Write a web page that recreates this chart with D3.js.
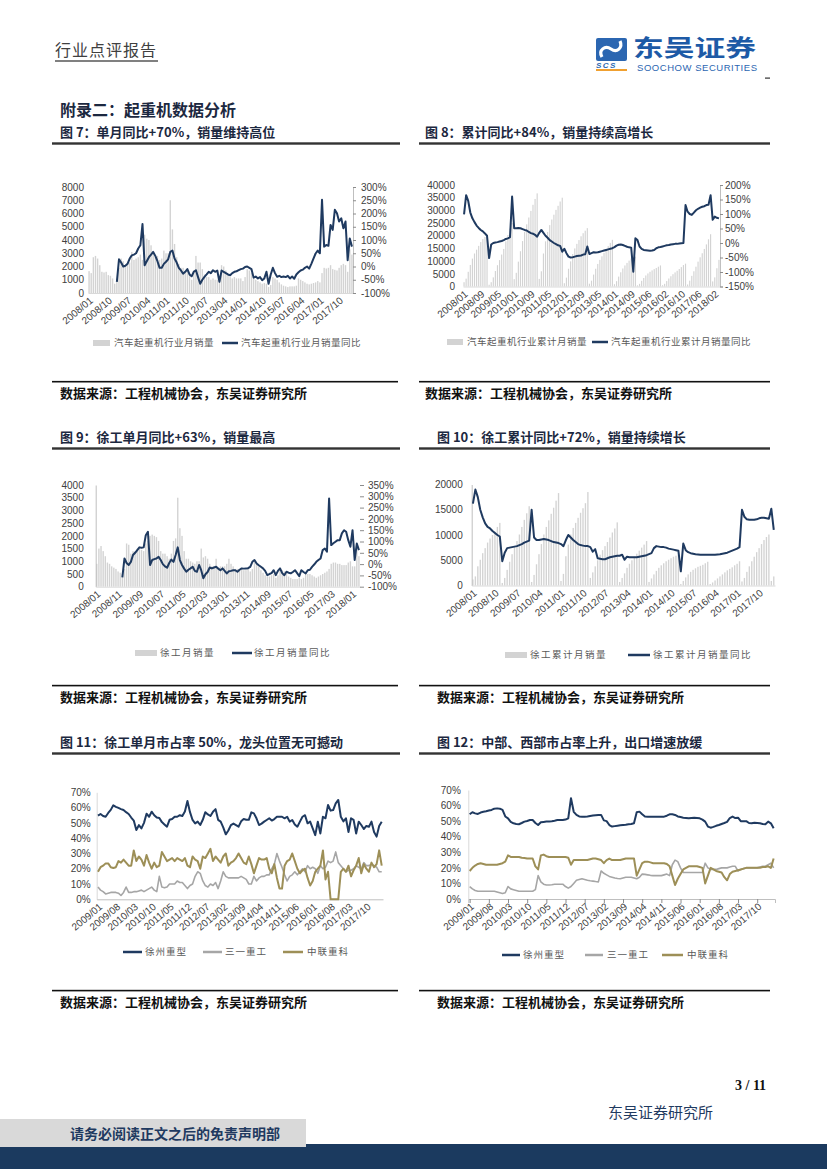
<!DOCTYPE html>
<html><head><meta charset="utf-8">
<script src="https://cdn.jsdelivr.net/npm/d3@7"></script>
<style>body{margin:0;background:#fff;}svg{display:block;}</style>
</head><body>
<svg id="page" width="827" height="1169"></svg>
<script>
// ---------- categories / tick labels ----------
function monthRange(y0,m0,y1,m1,skip){const out=[];let y=y0,m=m0;while(y<y1||(y===y1&&m<=m1)){const s=y+"/"+String(m).padStart(2,"0");if(!skip||skip.indexOf(s)<0)out.push(s);m++;if(m>12){m=1;y++;}}return out;}
const cats7 = monthRange(2008,1,2018,4);
const cats8 = monthRange(2008,1,2018,4,["2015/02"]);
const cats9 = monthRange(2008,1,2018,4);
const cats10 = monthRange(2008,1,2018,4);
const cats11 = monthRange(2009,1,2018,4);
const cats12 = monthRange(2009,1,2018,4);

const ticks7 = ["2008/01","2008/10","2009/07","2010/04","2011/01","2011/10","2012/07","2013/04","2014/01","2014/10","2015/07","2016/04","2017/01","2017/10"];
const ticks8 = ["2008/01","2008/09","2009/05","2010/01","2010/09","2011/05","2012/01","2012/09","2013/05","2014/01","2014/09","2015/06","2016/02","2016/10","2017/06","2018/02"];
const ticks9 = ["2008/01","2008/11","2009/09","2010/07","2011/05","2012/03","2013/01","2013/11","2014/09","2015/07","2016/05","2017/03","2018/01"];
const ticks10 = ["2008/01","2008/10","2009/07","2010/04","2011/01","2011/10","2012/07","2013/04","2014/01","2014/10","2015/07","2016/04","2017/01","2017/10"];
const ticks11 = ["2009/01","2009/08","2010/03","2010/10","2011/05","2011/12","2012/07","2013/02","2013/09","2014/04","2014/11","2015/06","2016/01","2016/08","2017/03","2017/10"];
const ticks12 = ticks11;

const left7 = [0,1000,2000,3000,4000,5000,6000,7000,8000];
const right7 = [-100,-50,0,50,100,150,200,250,300];
const left8 = [0,5000,10000,15000,20000,25000,30000,35000,40000];
const right8 = [-150,-100,-50,0,50,100,150,200];
const left9 = [0,500,1000,1500,2000,2500,3000,3500,4000];
const right9 = [-100,-50,0,50,100,150,200,250,300,350];
const left10 = [0,5000,10000,15000,20000];
const pctTicks = [0,10,20,30,40,50,60,70];

// ---------- chart 7: truck crane monthly sales / YoY ----------
const sales7 = [1650,1500,2700,2800,2600,2100,1600,1550,1600,1350,1300,1100,
700,1000,1900,2600,2400,2000,2200,2300,3100,2500,2600,2700,
2900,2500,4400,4100,4000,3600,3000,2700,2800,2500,2600,3200,
3000,3000,7000,4800,3700,2700,2200,1900,1900,1600,1700,1500,
1000,1700,2800,2300,2300,1800,1400,1200,1200,1000,1100,1000,
1000,1100,2100,2000,1700,1400,1200,1100,1200,1100,1100,1100,
900,1200,1800,1700,1500,1200,1000,900,800,700,750,700,
450,600,1200,1100,1000,800,650,550,500,450,500,500,
500,550,1100,1000,900,800,700,650,700,750,800,900,
800,1500,1900,1850,1900,2100,1800,1750,1700,1900,2100,2200,
2100,1600,3300,2900];
const yoy7 = [null,null,null,null,null,null,null,null,null,null,null,null,null,
-58,27,15,0,3,10,30,42,45,50,68,80,160,5,20,35,45,55,40,20,-5,-5,10,18,27,55,60,30,15,-5,-15,-27,-20,-10,-30,-37,-20,-14,-40,-65,-50,-39,-30,-20,-25,-14,-20,-15,-58,-15,-20,-25,-30,-33,-25,-20,-18,-14,-10,-8,-2,0,-5,-10,-42,-38,-45,-40,-52,-45,-20,-65,-30,-5,-25,-39,-35,-40,-38,-40,-35,-45,-38,-46,-30,-22,-15,-12,-5,0,-8,10,30,49,60,50,252,75,81,78,157,138,214,201,170,182,144,170,24,106,75];

// ---------- chart 8: truck crane cumulative sales / YoY ----------
const cum8 = [1700,3100,5800,8500,11000,13000,14500,16000,17500,18700,19500,20000,
700,1700,3600,6100,8400,10400,12600,14800,17800,20300,22800,25000,
2900,5400,9800,13900,17900,21500,24500,27200,29800,32200,34500,36700,
3000,6000,13000,17800,21500,24200,26400,28300,30200,31800,33500,35000,
1300,3500,7000,9900,12800,15000,16800,18300,19800,21000,22000,23000,
1100,2300,4700,7000,8900,10500,11900,13200,14600,15900,17200,18400,
900,2100,3900,5600,7100,8300,9300,10200,11000,11500,11800,
450,1050,2250,3350,4350,5150,5800,6350,6850,7300,7800,8300,
500,1050,2150,3150,4050,4850,5550,6200,6900,7650,8450,9000,
800,2300,4200,6000,7800,9800,11500,13100,14800,16600,18600,20600,
2000,3600,7200,10500];
const yoy8 = [99,165,145,105,85,72,60,52,45,40,33,25,
-52,-5,0,2,3,5,7,10,14,16,20,160,
51,51,52,51,48,45,43,38,34,32,28,22,
35,45,35,25,18,10,5,0,-4,-8,-10,-30,
-20,-35,-47,-50,-49,-47,-45,-44,-43,-40,-39,-12,
-38,-35,-32,-33,-32,-30,-28,-26,-24,-22,-20,-18,
-14,-9,-6,-5,-7,-10,-13,-15,-16,-99,16,10,
-12,-20,-24,-25,-26,-27,-26,-24,-18,-15,-14,-12,
-10,-8,-7,-5,-4,-3,-3,-2,-1,0,131,108,
100,97,105,113,118,122,125,127,131,132,165,80,
91,87,85];

// ---------- chart 9: XCMG monthly sales / YoY ----------
const sales9 = [900,1500,1600,1400,1200,950,900,800,750,700,600,550,
500,700,1700,1650,1300,1400,1400,1500,1500,1450,1400,1700,
1800,2000,2050,2000,1950,1800,1400,1300,1300,1200,1100,1300,
1800,1900,3500,2300,2000,1400,1100,1100,1000,950,900,1000,
1000,1500,1150,1200,1100,900,800,800,1100,700,800,800,
800,900,1100,900,800,700,700,650,700,650,650,700,
600,700,1000,900,800,650,550,450,400,400,450,500,
350,450,700,650,600,500,400,350,300,300,300,350,
300,350,550,500,500,450,400,350,400,450,500,550,
600,700,900,950,950,900,900,850,850,850,950,1000,
800,800,1500,1200];
const yoy9 = [null,null,null,null,null,null,null,null,null,null,null,null,
-59,25,5,-4,10,40,50,62,74,72,74,128,143,-4,18,22,25,32,18,0,-10,-16,5,20,10,40,74,18,-4,-20,-34,-25,-19,-12,-30,-34,-4,-27,-63,-45,-35,-15,-19,-15,-12,-20,-27,-19,-30,-41,-32,-30,-27,-27,-34,-25,-19,-20,-19,-18,-12,10,18,3,-5,-12,-19,-30,-49,-44,-40,-27,-49,-30,-19,-40,-49,-34,-38,-41,-35,-27,-40,-53,-27,-35,-41,-27,-25,-12,-2,10,18,25,62,69,55,290,84,92,99,106,106,136,150,143,106,77,150,18,91,62];

// ---------- chart 10: XCMG cumulative sales / YoY ----------
const cum10 = [1200,1800,3800,5100,6400,7400,8500,9300,10000,10700,11600,12400,
500,1500,3100,4700,6200,7600,8800,10100,11600,13000,14300,15700,
700,2100,4200,6200,8200,10100,11600,12900,14200,15400,16800,18300,
900,2300,5800,8100,10100,11400,12400,13400,14400,15300,16300,18500,
1500,2600,3800,5000,6100,7000,7800,8600,9500,10500,11300,12500,
700,1500,2400,3500,4300,5000,5700,6300,6900,7500,8100,8800,
700,1400,2200,2900,3500,4000,4400,4800,5100,5400,5700,5900,6100,
300,900,1600,2200,2700,3100,3400,3700,3900,4100,4400,4700,
300,600,1000,1400,1800,2200,2600,3000,3300,3600,4000,4300,4800,
800,1500,2700,3800,4800,5700,6600,7400,8200,9000,9600,10100,
900,1800];
const yoy10 = [174,230,200,150,120,96,82,76,66,58,50,44,
-54,-20,-2,0,2,4,6,10,14,20,24,28,
150,40,30,30,32,34,32,30,26,22,20,18,
14,6,30,50,40,30,22,14,10,8,6,6,
2,-16,-6,-42,-44,-46,-46,-42,-38,-36,-34,-32,
-32,-28,-48,-36,-38,-38,-38,-38,-36,-34,-32,-30,
-26,-22,-2,6,4,2,2,0,-4,-6,-8,-10,-12,
-94,16,-10,-18,-22,-24,-26,-27,-28,-28,-28,-28,
-28,-28,-28,-27,-26,-24,-22,-20,-16,-12,-8,-4,2,
150,122,112,110,110,110,112,116,118,118,116,114,
154,70];

// ---------- chart 11: monthly market share ----------
const xcmg11 = [54.7,55.8,54.5,54,56.5,58.5,61.5,60.5,59.8,59,58.4,57,55.8,53.5,51.5,45.3,48.5,46.4,50,56,54,57.3,55,53.5,53.2,50.5,49,47.5,52,52.5,54,54,55,54.5,57.5,64.3,57,51.9,49.7,50.8,48.6,52,57,55.5,54.5,57.3,59,52,50.8,47,42.5,45,48.5,49.5,48.5,47.5,51,52.5,52,52,56.9,56.2,53,48.6,49.5,50.8,51.9,53,51.5,52.5,54,54,54,53,54,50.8,51.9,49,47.5,50.8,54,55,49.7,50.8,46.4,42,50.8,43.1,54,53,61.7,58,58.4,62.7,65,54,51,53,44,53,52,43,50.8,48.6,46,48,47.5,50.8,44,41,48,50.8];
const sany11 = [8,6,5,3.5,4,4.5,4.5,4.5,4,2.5,4.5,8,4.5,4.5,5,5,5.5,6,5,6,7,8,6,5,15,8,7.5,8,10,10,10,12,11,11,9,7,9,10,15,18,17,12,9,8,10,9,11,7,12,18,15,14,14,14,14,14,15,14,13,10,10,15,12,14,15,15,16,16,20,23,30,25,21,16,12,15,16,18,16,18,20,18,22,20,21,20,17,22,20,21,25,24,25,31,24,22,20,18,19,19,20,22,21,20,24,22,22,23,22,21,18,18];
const zoomlion11 = [18,21,22,23.5,23.5,21,20.5,21,25,24,26,24,22,22,32,25,28,26,22,29,24,20,24,21,22,31,28,25,26,27,25,27,26,25,27,22,21,28,26,25,20,28,27,30,33,25,28,26,24,28,30,22,24,25,27,30,27,24,23,28,23,17,22,27,26,26,27,20,17,23,14,7,7,22,25,26,30,25,20,17,19,20,14,9,12,18,20,22,32,13,18,0,0,0,0,18,20,18,22,15,19,22,27,17,23,20,18,24,21,23,32,22];

// ---------- chart 12: cumulative market share ----------
const xcmg12 = [54.4,55.7,55,54.6,55.5,56,56.3,56.8,57.2,58,58.2,58,57.2,53,51.8,49.5,48.6,48.2,48,48.8,49.7,50.1,50.7,50.7,48.8,47.5,49.3,49.5,49.7,49.8,50,50.3,50.7,50.7,50.7,51,51.8,64.7,56,54,53,52.9,52.9,53,53.3,53.6,53.8,54,54,50.5,50,47.5,46.5,46.8,47.1,47.3,47.5,47.7,48,48.2,48.6,55.7,56.1,54.4,53,52.9,52.9,52.9,52.9,52.9,52.9,52.9,53.5,54.4,54.4,54,53,52.6,52.2,52,51.8,52,52.2,52,51.8,51,49.7,46.5,45.8,46.3,47,47.5,48.2,48.8,49.5,52,52.9,52,52.2,50,50,50,48.8,48.6,49,48.8,48.6,48.2,48,49.7,48.6,45.4];
const sany12 = [8,6.5,5.5,5,5,5,5,5,5,5,4.5,4,3.5,4,8,6.5,6,5.5,5,5,5,5,5,5,6,15,11,9.5,9,9,9.2,9.5,9.5,9.5,9.5,8,7,8,10,12,12.5,13,12.5,12,11.7,11.5,11.2,11,18,16.5,15.5,14.5,14,13.5,13.2,13,13.5,14,14,14,13.5,13,14,16,15.8,15.5,15.2,15,15,15,15,15.5,16,15,22,25,24,20,17,17,17,17,17,17,17,17,23,20,19,19,19,19.5,20,20,20,20.5,21,21,18,19,19.5,20,20,20,20,20,20.5,21,21,22,23,20];
const zoomlion12 = [18,20,21.5,22.5,23,22.5,22,22,22,22,22,22.5,23,24,28,27,27,27,27,26.5,26.3,26,26,26,21,19,28,28.5,27.5,27,27,27,27,27,27,27,26.5,22,25,25,25,25,25,25,25.5,26,26,25.5,25,23,25,26,25,25,25,25,25.5,26,26,26,26,15,19,23,24,24,23.5,23,23,23,23,23,22.5,21,15,9,13,16,19,20,21,21,21,21,20.5,20,10,15,20,19,18,17.5,17,14,12,16,17.5,18,18.5,19,19.5,20,20,20,20,20,20,20.5,20.5,21,20,26];

// ---------- drawing ----------
const svg = d3.select("#page");
const NUM = "'Liberation Sans', Arial, sans-serif";
const CJK = "'Noto Sans CJK SC', 'Noto Sans', sans-serif";
const NAVY = "#1f3a60", BAR = "#d3d3d3", GRAY = "#a6a6a6", OLIVE = "#9d8f57";
const TXT = "#404040";

function styleAxis(a, domainColor){
  a.select(".domain").attr("stroke", domainColor || "none");
  a.selectAll(".tick line").attr("stroke", "#8c8c8c");
  a.selectAll("text").attr("font-family", NUM).attr("font-size", 10).attr("fill", TXT);
}
function bottomAxis(g, x, B, ticks, domainColor, tickSize){
  const a = g.append("g").attr("transform", `translate(0,${B})`)
    .call(d3.axisBottom(x).tickValues(ticks).tickSize(tickSize||0).tickPadding(0));
  styleAxis(a, domainColor);
  a.selectAll("text").attr("text-anchor","end").attr("x",-2).attr("y",4).attr("dy","0.55em")
    .attr("transform","rotate(-40)");
}
function legend(g, items, y){
  items.forEach(it => {
    if (it.type === "bar") g.append("rect").attr("x", it.x).attr("y", y-3).attr("width", it.w).attr("height", 6).attr("fill", it.color);
    else g.append("line").attr("x1", it.x).attr("x2", it.x+it.w).attr("y1", y).attr("y2", y).attr("stroke", it.color).attr("stroke-width", 2.5);
    g.append("text").attr("x", it.tx).attr("y", y).attr("dy","0.35em").attr("font-family", CJK)
      .attr("font-size", 9.5).attr("letter-spacing", it.ls||0.5).attr("fill", "#595959").text(it.text);
  });
}
function drawCombo(c){
  const g = svg.append("g");
  const x = d3.scaleBand().domain(c.cats).range([c.L, c.R]).paddingInner(c.pad).paddingOuter(c.pad/2);
  const yL = d3.scaleLinear().domain([c.leftTicks[0], c.leftTicks[c.leftTicks.length-1]]).range([c.B, c.T]);
  const yR = d3.scaleLinear().domain(c.rightDomain).range([c.B, c.T]);
  const cx = k => x(k) + x.bandwidth()/2;
  g.append("g").selectAll("rect").data(c.bars.map((v,i)=>({k:c.cats[i], v}))).join("rect")
    .attr("x", d=>x(d.k)).attr("width", x.bandwidth()).attr("y", d=>yL(d.v))
    .attr("height", d=>c.B-yL(d.v)).attr("fill", BAR);
  const la = g.append("g").attr("transform",`translate(${c.L},0)`)
    .call(d3.axisLeft(yL).tickValues(c.leftTicks).tickSize(0).tickPadding(c.lpad).tickFormat(d3.format("d")));
  styleAxis(la, c.leftLine);
  bottomAxis(g, x, c.B, c.ticks, "#d9d9d9");
  if (c.rightTicks){
    const ra = g.append("g").attr("transform",`translate(${c.R},0)`)
      .call(d3.axisRight(yR).tickValues(c.rightTicks).tickSize(c.rtick).tickPadding(c.rpad).tickFormat(d=>d+"%"));
    styleAxis(ra, c.rightLine);
  }
  const line = d3.line().defined(d=>d.v!=null).x(d=>cx(d.k)).y(d=>yR(d.v));
  g.append("path").datum(c.line.map((v,i)=>({k:c.cats[i], v}))).attr("d", line)
    .attr("fill","none").attr("stroke",NAVY).attr("stroke-width",2).attr("stroke-linejoin","round");
  legend(g, c.legend, c.legendY);
}
function drawShare(c){
  const g = svg.append("g");
  const x = d3.scalePoint().domain(c.cats).range([c.L, c.R]).padding(0.5);
  const y = d3.scaleLinear().domain([0,70]).range([c.B, c.T]);
  const la = g.append("g").attr("transform",`translate(${c.L},0)`)
    .call(d3.axisLeft(y).tickValues(pctTicks).tickSize(0).tickPadding(c.lpad).tickFormat(d=>d+"%"));
  styleAxis(la, "#d9d9d9");
  bottomAxis(g, x, c.B, c.ticks, "#bfbfbf", c.xtick||0);
  c.series.forEach(s => {
    const line = d3.line().x((d,i)=>x(c.cats[i])).y(d=>y(d));
    g.append("path").datum(s.vals).attr("d", line).attr("fill","none")
      .attr("stroke", s.color).attr("stroke-width", s.w).attr("stroke-linejoin","round");
  });
  legend(g, c.legend, c.legendY);
}

// ---------- page furniture ----------
function text(x,y,s,size,opts){
  opts = opts||{};
  return svg.append("text").attr("x",x).attr("y",y).attr("font-family",opts.font||CJK)
    .attr("font-size",size).attr("font-weight",opts.bold?"bold":"normal")
    .attr("fill",opts.fill||"#222").attr("letter-spacing",opts.ls||0).text(s);
}
text(55,56,"行业点评报告",16,{fill:"#404040",ls:1});
svg.append("rect").attr("x",55).attr("y",60).attr("width",103).attr("height",2).attr("fill","#808080");
// logo
svg.append("rect").attr("x",596).attr("y",38).attr("width",31).attr("height",23).attr("rx",2).attr("fill","#2b66b1");
svg.append("path").attr("d","M602,57 C598,50 605,45 611,49 C617,53 623,48 620,41").attr("fill","none").attr("stroke","#fff").attr("stroke-width",3.2);
text(596,67.5,"SCS",8,{font:NUM,bold:true,fill:"#2b66b1",ls:1.5}).attr("font-style","italic");
svg.append("rect").attr("x",596).attr("y",69).attr("width",31).attr("height",2).attr("fill","#f0a030");
text(633,55.5,"东吴证券",23,{bold:true,fill:"#1d5aa6"}).attr("textLength",123).attr("lengthAdjust","spacingAndGlyphs");
text(637,71,"SOOCHOW SECURITIES",9.5,{font:NUM,fill:"#2b66b1"}).attr("textLength",120);
svg.append("rect").attr("x",765).attr("y",77.5).attr("width",5).attr("height",1.2).attr("fill","#333");

text(60,116,"附录二：起重机数据分析",16,{bold:true,fill:"#1c2840"});
const titles = [
  [60,137,"图 7：单月同比+70%，销量维持高位"],[425,137,"图 8：累计同比+84%，销量持续高增长"],
  [60,442,"图 9：徐工单月同比+63%，销量最高"],[437,442,"图 10：徐工累计同比+72%，销量持续增长"],
  [60,747,"图 11：徐工单月市占率 50%，龙头位置无可撼动"],[437,747,"图 12：中部、西部市占率上升，出口增速放缓"]];
titles.forEach(t=>text(t[0],t[1],t[2],13,{bold:true,fill:"#1c2840"}));
[143.5,448.5,753.5].forEach(y=>{
  svg.append("rect").attr("x",52).attr("y",y-1.2).attr("width",348).attr("height",2.4).attr("fill","#333");
  svg.append("rect").attr("x",419).attr("y",y-1.2).attr("width",351).attr("height",2.4).attr("fill","#333");
});
[[381.7,398,425],[685.6,702,437],[990.6,1007,437]].forEach(r=>{
  svg.append("rect").attr("x",52).attr("y",r[0]-0.8).attr("width",346).attr("height",1.6).attr("fill","#111");
  svg.append("rect").attr("x",419).attr("y",r[0]-0.8).attr("width",351).attr("height",1.6).attr("fill","#111");
  text(60,r[1],"数据来源：工程机械协会，东吴证券研究所",13,{bold:true,fill:"#111"});
  text(r[2],r[1],"数据来源：工程机械协会，东吴证券研究所",13,{bold:true,fill:"#111"});
});

// ---------- charts ----------
drawCombo({cats:cats7, ticks:ticks7, bars:sales7, line:yoy7, L:88, R:353, T:187, B:293,
  leftTicks:left7, rightDomain:[-100,300], rightTicks:right7, pad:0.35, lpad:4, rtick:3, rpad:5,
  leftLine:null, rightLine:"#bfbfbf", legendY:343,
  legend:[{type:"bar",x:93,w:17,color:BAR,tx:114,text:"汽车起重机行业月销量"},
          {type:"line",x:222,w:16,color:NAVY,tx:241,text:"汽车起重机行业月销量同比"}]});
drawCombo({cats:cats8, ticks:ticks8, bars:cum8, line:yoy8, L:463, R:720, T:185, B:286.5,
  leftTicks:left8, rightDomain:[-150,200], rightTicks:right8, pad:0.45, lpad:8, rtick:3, rpad:2,
  leftLine:null, rightLine:"#bfbfbf", legendY:342,
  legend:[{type:"bar",x:447,w:16,color:BAR,tx:467,text:"汽车起重机行业累计月销量"},
          {type:"line",x:592,w:16,color:NAVY,tx:611,text:"汽车起重机行业累计月销量同比"}]});
drawCombo({cats:cats9, ticks:ticks9, bars:sales9, line:yoy9, L:95.7, R:360, T:485, B:586.7,
  leftTicks:left9, rightDomain:[-100,350], rightTicks:right9, pad:0.35, lpad:12, rtick:4, rpad:4,
  leftLine:"#bfbfbf", rightLine:null, legendY:653,
  legend:[{type:"bar",x:135,w:22,color:BAR,tx:160,text:"徐工月销量",ls:1.5},
          {type:"line",x:232,w:20,color:NAVY,tx:254,text:"徐工月销量同比",ls:1.5}]});
drawCombo({cats:cats10, ticks:ticks10, bars:cum10, line:yoy10, L:471.7, R:775, T:484.5, B:585.5,
  leftTicks:left10, rightDomain:[-150,250], rightTicks:null, pad:0.45, lpad:9,
  leftLine:"#bfbfbf", legendY:655,
  legend:[{type:"bar",x:505,w:22,color:BAR,tx:530,text:"徐工累计月销量",ls:1.5},
          {type:"line",x:628,w:22,color:NAVY,tx:653,text:"徐工累计月销量同比",ls:1.5}]});
drawShare({cats:cats11, ticks:ticks11, L:96.7, R:383, T:792.3, B:899.3, lpad:6, legendY:952,
  series:[{vals:xcmg11,color:NAVY,w:2},{vals:sany11,color:GRAY,w:1.6},{vals:zoomlion11,color:OLIVE,w:2}],
  legend:[{type:"line",x:123,w:19,color:NAVY,tx:145,text:"徐州重型",ls:1},
          {type:"line",x:203,w:19,color:GRAY,tx:225,text:"三一重工",ls:1},
          {type:"line",x:283,w:20,color:OLIVE,tx:307,text:"中联重科",ls:1}]});
drawShare({cats:cats12, ticks:ticks12, L:468.3, R:775, T:790, B:899, lpad:7.5, legendY:955, xtick:4,
  series:[{vals:xcmg12,color:NAVY,w:2},{vals:sany12,color:GRAY,w:1.6},{vals:zoomlion12,color:OLIVE,w:2}],
  legend:[{type:"line",x:502,w:18,color:NAVY,tx:523,text:"徐州重型",ls:1},
          {type:"line",x:585,w:18,color:GRAY,tx:607,text:"三一重工",ls:1},
          {type:"line",x:662,w:21,color:OLIVE,tx:687,text:"中联重科",ls:1}]});

// ---------- footer ----------
text(735,1090,"3 / 11",14,{font:"'Liberation Serif', serif",bold:true,fill:"#111"});
text(608,1118,"东吴证券研究所",15,{fill:"#1f3a60"});
svg.append("rect").attr("x",0).attr("y",1144).attr("width",827).attr("height",25).attr("fill","#1b3a5f");
svg.append("rect").attr("x",0).attr("y",1119).attr("width",306).attr("height",28).attr("fill","#d9d9d9");
text(70,1139,"请务必阅读正文之后的免责声明部",14,{bold:true,fill:"#1f3a60"});
</script>
</body></html>
